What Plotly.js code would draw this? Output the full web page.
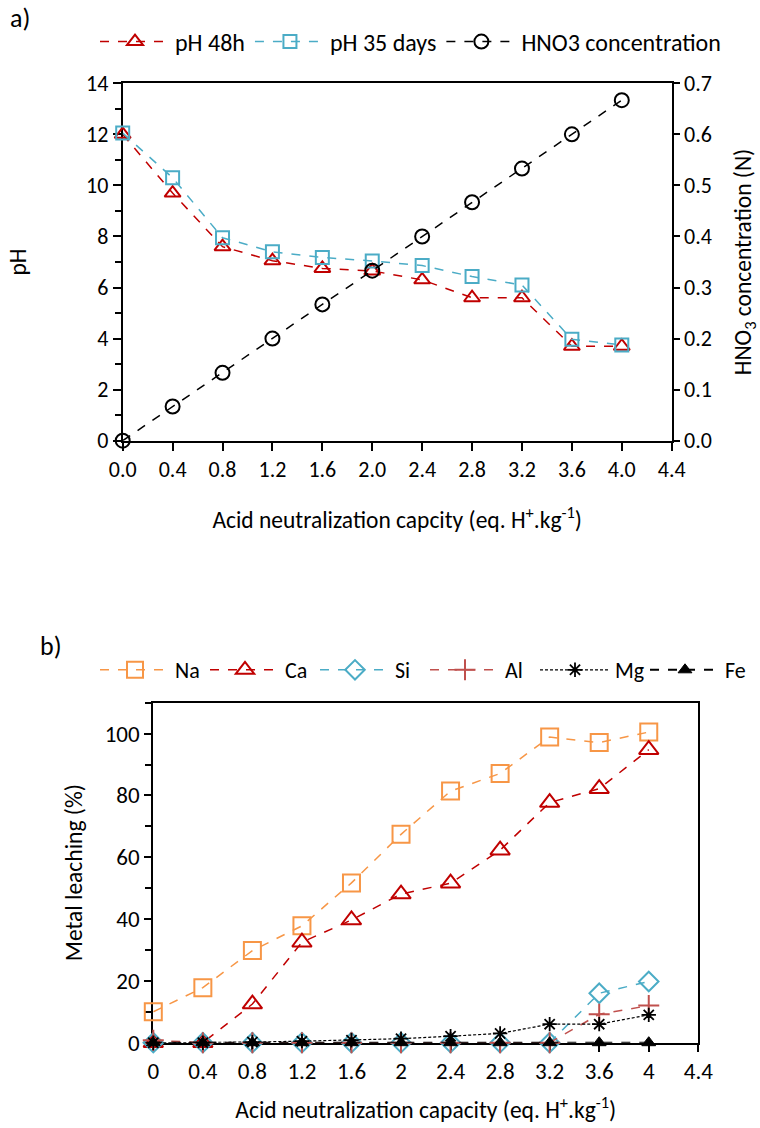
<!DOCTYPE html>
<html>
<head>
<meta charset="utf-8">
<script src="https://cdn.plot.ly/plotly-3.0.1.min.js"></script>
<style>
  html, body { margin: 0; padding: 0; background: #fff; }
  #chart { width: 760px; height: 1128px; }
</style>
</head>
<body>
<div id="chart"></div>
<script>
// Acid neutralization capacity (eq. H+/kg) at each titration step
const anc = [0.0, 0.4, 0.8, 1.2, 1.6, 2.0, 2.4, 2.8, 3.2, 3.6, 4.0];

// Panel a) pH after 48 h and after 35 days, and nitric acid concentration used
const ph48h = [12.0, 9.7, 7.6, 7.05, 6.75, 6.65, 6.3, 5.6, 5.6, 3.7, 3.7];
const ph35days = [12.05, 10.3, 7.95, 7.4, 7.18, 7.04, 6.86, 6.43, 6.1, 3.97, 3.75];
const hno3Conc = [0.0, 0.067, 0.133, 0.2, 0.267, 0.333, 0.4, 0.467, 0.533, 0.6, 0.667];

// Panel b) metal leaching (%)
const na = [10.0, 17.8, 29.8, 37.8, 51.7, 67.4, 81.4, 87.1, 98.9, 97.1, 100.5];
const ca = [0.0, 0.0, 12.5, 32.5, 39.7, 48.1, 51.6, 62.3, 77.7, 82.2, 94.8];
const si = [0.0, 0.0, 0.0, 0.0, 0.0, 0.0, 0.0, 0.0, 0.0, 16.0, 19.8];
const al = [0.8, 0.0, 0.0, 0.0, 0.0, 0.0, 0.0, 0.0, 0.0, 9.2, 12.0];
const mg = [0.0, 0.0, 0.2, 0.5, 0.8, 1.3, 2.1, 3.0, 6.0, 6.0, 9.0];
const fe = [0.0, 0.0, 0.0, 0.0, 0.0, 0.0, 0.0, 0.0, 0.0, 0.0, 0.0];

const FONT = 'Calibri, Carlito, Lato, sans-serif';
const FS = 22;
const RED = '#C00000';
const BLUE = '#4BACC6';
const ORANGE = '#F79646';
const ALRED = '#C0504D';

function series(x, y, name, color, symbol, size, opts) {
  opts = opts || {};
  return Object.assign({
    type: 'scatter',
    mode: 'lines+markers',
    x: x, y: y, name: name,
    cliponaxis: false,
    line: { color: color, width: opts.lineWidth || 1.5, dash: opts.dash || 'dash' },
    marker: {
      symbol: symbol, size: size,
      color: color,
      line: { color: color, width: opts.markerLine || 2 }
    }
  }, opts.extra || {});
}

const panelA = { xaxis: 'x', yaxis: 'y', legend: 'legend' };
const panelB = { xaxis: 'x3', yaxis: 'y3', legend: 'legend2' };

const traces = [
  series(anc, ph48h, 'pH 48h', RED, 'triangle-up-open', 14, { extra: panelA }),
  series(anc, ph35days, 'pH 35 days', BLUE, 'square-open', 13, { extra: panelA }),
  series(anc, hno3Conc, 'HNO3 concentration', '#000000', 'circle-open', 14,
         { extra: { xaxis: 'x', yaxis: 'y2', legend: 'legend' } }),

  series(anc, na, 'Na', ORANGE, 'square-open', 17, { extra: panelB }),
  series(anc, ca, 'Ca', RED, 'triangle-up-open', 17, { extra: panelB }),
  series(anc, si, 'Si', BLUE, 'diamond-open', 15, { extra: panelB }),
  series(anc, al, 'Al', ALRED, 'cross-thin-open', 15, { extra: panelB }),
  series(anc, mg, 'Mg', '#000000', 'asterisk-open', 12, { lineWidth: 1.2, dash: '3px,2px', markerLine: 1.8, extra: panelB }),
  series(anc, fe, 'Fe', '#000000', 'triangle-up', 12, { lineWidth: 2, markerLine: 1, extra: panelB })
];

const axisBase = {
  showline: true, linecolor: '#000', linewidth: 2,
  showgrid: false, zeroline: false,
  ticks: 'outside', tickcolor: '#000', tickwidth: 2,
  tickfont: { family: FONT, size: FS, color: '#000' },
  layer: 'below traces'
};

const W = 760, H = 1128;
const px = v => v / W;
const py = v => 1 - v / H;
const titleFont = { family: FONT, size: 23.5, color: '#000' };

const layout = {
  width: W, height: H,
  margin: { l: 0, r: 0, t: 0, b: 0 },
  paper_bgcolor: '#fff', plot_bgcolor: '#fff',
  font: { family: FONT, color: '#000', size: FS },
  showlegend: true,

  xaxis: Object.assign({}, axisBase, {
    domain: [px(122.7), px(671.7)], anchor: 'y',
    range: [0, 4.4], tick0: 0, dtick: 0.4, tickformat: '.1f',
    ticklen: 8, mirror: true,
    title: { text: 'Acid neutralization capcity (eq. H<sup>+</sup>.kg<sup>-1</sup>)', font: titleFont, standoff: 29 }
  }),
  yaxis: Object.assign({}, axisBase, {
    domain: [py(440.7), py(83.3)], anchor: 'x',
    range: [0, 14], tick0: 0, dtick: 2, ticklen: 8,
    minor: { dtick: 1, ticks: 'outside', ticklen: 6, tickwidth: 2, tickcolor: '#000' },
    title: { text: 'pH', font: titleFont, standoff: 53 }
  }),
  yaxis2: Object.assign({}, axisBase, {
    overlaying: 'y', side: 'right', anchor: 'x',
    range: [0, 0.7], tick0: 0, dtick: 0.1, tickformat: '.1f', ticklen: 6,
    title: { text: 'HNO<sub>3</sub> concentration (N)', font: titleFont, standoff: 25 }
  }),

  xaxis3: Object.assign({}, axisBase, {
    domain: [px(153.3), px(698.3)], anchor: 'y3',
    range: [0, 4.4], tick0: 0, dtick: 0.4,
    ticklen: 7, mirror: true,
    tickfont: { family: FONT, size: 23, color: '#000' },
    title: { text: 'Acid neutralization capacity (eq. H<sup>+</sup>.kg<sup>-1</sup>)', font: titleFont, standoff: 17 }
  }),
  yaxis3: Object.assign({}, axisBase, {
    domain: [py(1042.7), py(702.7)], anchor: 'x3',
    range: [0, 110], tick0: 0, dtick: 20, ticklen: 7, mirror: true,
    minor: { dtick: 10, ticks: 'outside', ticklen: 6, tickwidth: 2, tickcolor: '#000' },
    tickfont: { family: FONT, size: 23, color: '#000' },
    title: { text: 'Metal leaching (%)', font: titleFont, standoff: 15 }
  }),

  legend: {
    orientation: 'h', x: px(95), y: py(42), xanchor: 'left', yanchor: 'middle',
    font: { family: FONT, size: 24, color: '#000' },
    bgcolor: 'rgba(0,0,0,0)', itemwidth: 70, traceorder: 'normal'
  },
  legend2: {
    orientation: 'h', x: px(95), y: py(670), xanchor: 'left', yanchor: 'middle',
    font: { family: FONT, size: 22, color: '#000' },
    bgcolor: 'rgba(0,0,0,0)', itemwidth: 70, entrywidth: 25, traceorder: 'normal'
  },

  annotations: [
    { text: 'a)', xref: 'paper', yref: 'paper', x: px(8), y: py(18), xanchor: 'left', yanchor: 'middle', showarrow: false, font: { family: FONT, size: 26, color: '#000' } },
    { text: 'b)', xref: 'paper', yref: 'paper', x: px(38), y: py(646), xanchor: 'left', yanchor: 'middle', showarrow: false, font: { family: FONT, size: 26, color: '#000' } }
  ]
};

Plotly.newPlot('chart', traces, layout, { staticPlot: true, displayModeBar: false });
</script>
</body>
</html>
